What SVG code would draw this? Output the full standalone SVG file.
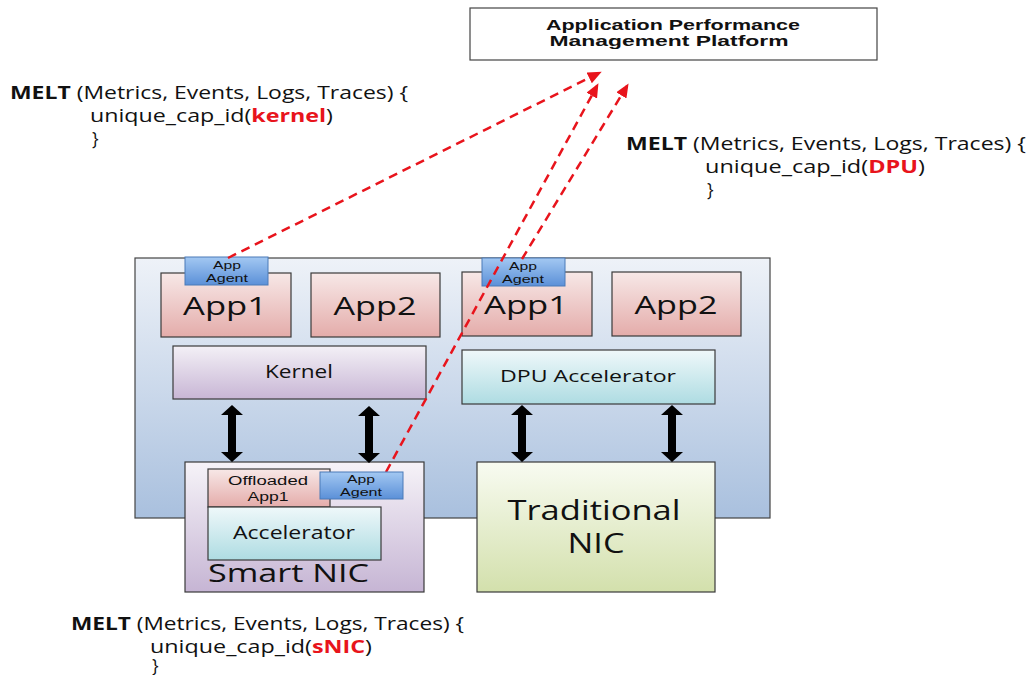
<svg xmlns="http://www.w3.org/2000/svg" width="1031" height="675" viewBox="0 0 1031 675">
<defs>
<linearGradient id="gCont" x1="0" y1="0" x2="0" y2="1"><stop offset="0" stop-color="#eef2f8"/><stop offset="1" stop-color="#a9c0de"/></linearGradient>
<linearGradient id="gApp" x1="0" y1="0" x2="0" y2="1"><stop offset="0" stop-color="#f7e8e7"/><stop offset="1" stop-color="#e4acaa"/></linearGradient>
<linearGradient id="gKern" x1="0" y1="0" x2="0" y2="1"><stop offset="0" stop-color="#f3f0f6"/><stop offset="1" stop-color="#c8b6d5"/></linearGradient>
<linearGradient id="gDpu" x1="0" y1="0" x2="0" y2="1"><stop offset="0" stop-color="#eff8fa"/><stop offset="1" stop-color="#aedce2"/></linearGradient>
<linearGradient id="gAgent" x1="0" y1="0" x2="0" y2="1"><stop offset="0" stop-color="#a3c8f2"/><stop offset="1" stop-color="#5b90d8"/></linearGradient>
<linearGradient id="gSnic" x1="0" y1="0" x2="0" y2="1"><stop offset="0" stop-color="#f6f3f8"/><stop offset="1" stop-color="#c6b5d4"/></linearGradient>
<linearGradient id="gTnic" x1="0" y1="0" x2="0" y2="1"><stop offset="0" stop-color="#f8fbf1"/><stop offset="1" stop-color="#d3e0ac"/></linearGradient>
<marker id="redHeadL" markerWidth="14" markerHeight="12" refX="11" refY="6" orient="auto" markerUnits="userSpaceOnUse" viewBox="0 0 14 12">
<path d="M0,0 L14,6 L0,12 z" fill="#e8141c"/>
</marker>
<path id="dblArrow" d="M0,0 L11,10 L4,10 L4,47 L11,47 L0,57 L-11,47 L-4,47 L-4,10 L-11,10 z" fill="#000"/>
</defs>
<style>
.box{stroke:#3a3a3a;stroke-width:1.2}
.agent{stroke:#4a7ab8;stroke-width:1}
.t{font-family:"Open Sans","Liberation Sans",sans-serif;fill:#111;text-anchor:middle}
.ts{font-family:"Liberation Sans",Arial,sans-serif;fill:#111;text-anchor:middle}
.melt{font-family:"Open Sans","Liberation Sans",sans-serif;font-size:17.5px;fill:#111}
.b{font-weight:bold}
.red{fill:#e8141c;font-weight:bold}
.dash{fill:none;stroke:#e8141c;stroke-width:2.5;stroke-dasharray:9 6}
</style>
<rect width="1031" height="675" fill="#fff"/>

<g id="apm">
<rect x="470" y="8" width="407" height="52" fill="#fff" stroke="#444" stroke-width="1.2"/>
<text class="ts b" x="673" y="30" font-size="15" textLength="254" lengthAdjust="spacingAndGlyphs">Application Performance</text>
<text class="ts b" x="669" y="46" font-size="15" textLength="239" lengthAdjust="spacingAndGlyphs">Management Platform</text>
</g>

<g id="host">
<rect x="135" y="258" width="635" height="260" fill="url(#gCont)" stroke="#444" stroke-width="1.2"/>
</g>

<g id="app1-left">
<rect class="box" x="161" y="273" width="130" height="64" fill="url(#gApp)"/>
<text class="t" x="225" y="315" font-size="25" textLength="84" lengthAdjust="spacingAndGlyphs">App1</text>
</g>
<g id="app2-left">
<rect class="box" x="311" y="273" width="129" height="64" fill="url(#gApp)"/>
<text class="t" x="375" y="315" font-size="25" textLength="83" lengthAdjust="spacingAndGlyphs">App2</text>
</g>
<g id="kernel">
<rect class="box" x="173" y="346" width="253" height="53" fill="url(#gKern)"/>
<text class="t" x="299" y="378" font-size="18" textLength="68" lengthAdjust="spacingAndGlyphs">Kernel</text>
</g>
<g id="app1-right">
<rect class="box" x="462" y="272" width="130" height="64" fill="url(#gApp)"/>
<text class="t" x="526" y="314" font-size="25" textLength="84" lengthAdjust="spacingAndGlyphs">App1</text>
</g>
<g id="app2-right">
<rect class="box" x="612" y="272" width="129" height="64" fill="url(#gApp)"/>
<text class="t" x="676" y="314" font-size="25" textLength="83" lengthAdjust="spacingAndGlyphs">App2</text>
</g>
<g id="dpu-accelerator">
<rect class="box" x="462" y="350" width="253" height="54" fill="url(#gDpu)"/>
<text class="t" x="588" y="382" font-size="17" textLength="176" lengthAdjust="spacingAndGlyphs">DPU Accelerator</text>
</g>

<g id="smart-nic">
<rect class="box" x="185" y="462" width="239" height="130" fill="url(#gSnic)"/>
<text x="208" y="582" font-family="'Open Sans','Liberation Sans',sans-serif" font-size="25.5" fill="#111" textLength="161" lengthAdjust="spacingAndGlyphs">Smart NIC</text>
</g>
<g id="offloaded-app1">
<rect class="box" x="208" y="469" width="122" height="38" fill="url(#gApp)"/>
<text class="ts" x="268" y="485" font-size="12.5" textLength="80" lengthAdjust="spacingAndGlyphs">Offloaded</text>
<text class="ts" x="268" y="501" font-size="12.5" textLength="41" lengthAdjust="spacingAndGlyphs">App1</text>
</g>
<g id="accelerator">
<rect class="box" x="208" y="507" width="173" height="53" fill="url(#gDpu)"/>
<text class="t" x="294" y="539" font-size="17.5" textLength="122" lengthAdjust="spacingAndGlyphs">Accelerator</text>
</g>
<g id="traditional-nic">
<rect class="box" x="477" y="462" width="238" height="130" fill="url(#gTnic)"/>
<text class="t" x="594" y="520" font-size="27" textLength="173" lengthAdjust="spacingAndGlyphs">Traditional</text>
<text class="t" x="596" y="553" font-size="27" textLength="57" lengthAdjust="spacingAndGlyphs">NIC</text>
</g>

<g id="agent-kernel">
<rect class="agent" x="185" y="257" width="83" height="28" fill="url(#gAgent)"/>
<text class="ts" x="227" y="269" font-size="11.5" textLength="28" lengthAdjust="spacingAndGlyphs">App</text>
<text class="ts" x="227" y="282" font-size="11.5" textLength="42" lengthAdjust="spacingAndGlyphs">Agent</text>
</g>
<g id="agent-dpu">
<rect class="agent" x="482" y="258" width="83" height="28" fill="url(#gAgent)"/>
<text class="ts" x="523" y="270" font-size="11.5" textLength="28" lengthAdjust="spacingAndGlyphs">App</text>
<text class="ts" x="523" y="283" font-size="11.5" textLength="42" lengthAdjust="spacingAndGlyphs">Agent</text>
</g>

<g id="connectors">
<use href="#dblArrow" x="232" y="405"/>
<use href="#dblArrow" x="369" y="406"/>
<use href="#dblArrow" x="522" y="405"/>
<use href="#dblArrow" x="672" y="405"/>
<line class="dash" x1="228" y1="258" x2="599" y2="73" marker-end="url(#redHeadL)"/>
<line class="dash" x1="522" y1="259" x2="627" y2="86" marker-end="url(#redHeadL)"/>
<line class="dash" x1="386" y1="472" x2="597" y2="86" marker-end="url(#redHeadL)"/>
</g>

<g id="agent-snic">
<rect class="agent" x="320" y="472" width="83" height="27" fill="url(#gAgent)"/>
<text class="ts" x="361" y="483" font-size="11.5" textLength="28" lengthAdjust="spacingAndGlyphs">App</text>
<text class="ts" x="361" y="496" font-size="11.5" textLength="42" lengthAdjust="spacingAndGlyphs">Agent</text>
</g>

<g id="melt-kernel">
<text class="melt" x="10" y="99" textLength="398" lengthAdjust="spacingAndGlyphs"><tspan class="b">MELT</tspan> (Metrics, Events, Logs, Traces) {</text>
<text class="melt" x="90" y="122" textLength="243" lengthAdjust="spacingAndGlyphs">unique_cap_id(<tspan class="red">kernel</tspan>)</text>
<text class="melt" x="92" y="145">}</text>
</g>
<g id="melt-dpu">
<text class="melt" x="626" y="150" textLength="400" lengthAdjust="spacingAndGlyphs"><tspan class="b">MELT</tspan> (Metrics, Events, Logs, Traces) {</text>
<text class="melt" x="705" y="173" textLength="220" lengthAdjust="spacingAndGlyphs">unique_cap_id(<tspan class="red">DPU</tspan>)</text>
<text class="melt" x="707" y="196">}</text>
</g>
<g id="melt-snic">
<text class="melt" x="71" y="630" textLength="393" lengthAdjust="spacingAndGlyphs"><tspan class="b">MELT</tspan> (Metrics, Events, Logs, Traces) {</text>
<text class="melt" x="150" y="653" textLength="222" lengthAdjust="spacingAndGlyphs">unique_cap_id(<tspan class="red">sNIC</tspan>)</text>
<text class="melt" x="152" y="672">}</text>
</g>
</svg>
